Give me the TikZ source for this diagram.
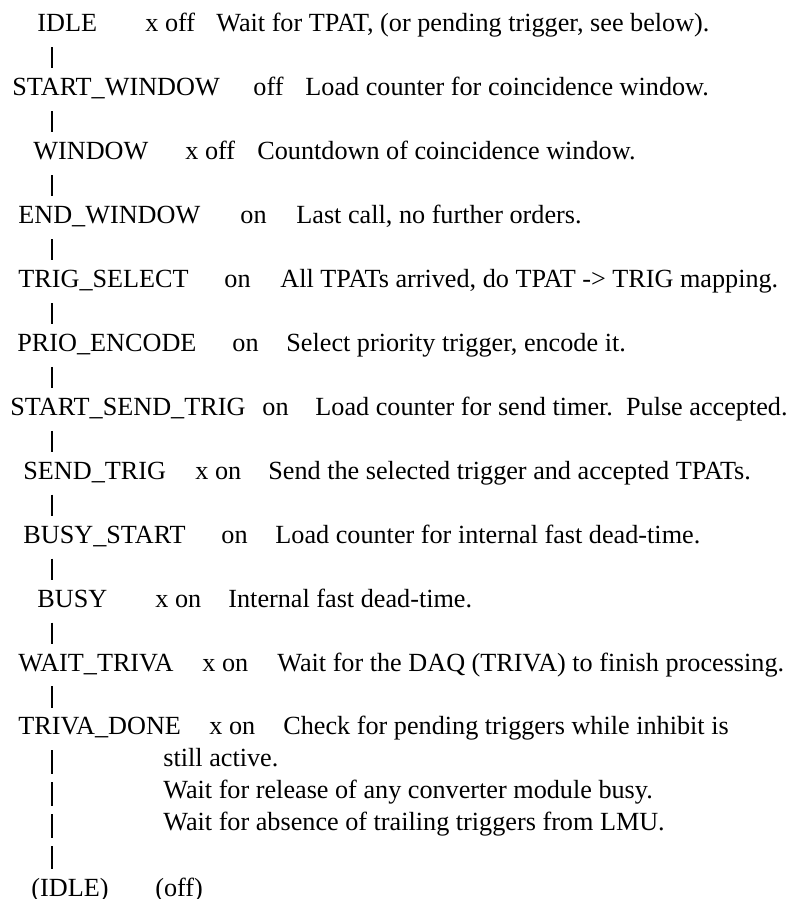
\documentclass[tikz,border=0pt]{standalone}
\usepackage{fontspec}
\setmainfont{Liberation Serif}
\usepackage{tikz}
\usetikzlibrary{positioning,calc}

\tikzset{
    txt/.style={anchor=base west, inner sep=0pt, font=\fontsize{13.1pt}{15pt}\selectfont},
    state/.style={txt, text height=13.5pt, text depth=7.5pt},
    bar/.style={line width=0.9pt}
}

\begin{document}
\begin{tikzpicture}[x=0.5pt, y=-0.5pt]
    \useasboundingbox (0,0) rectangle (798,899);

    % States
    \node[state] (idle)      at (37,32)    {IDLE};
    \node[state] (startwin)  at (12,95.9)  {START\_WINDOW};
    \node[state] (win)       at (33,159.8) {WINDOW};
    \node[state] (endwin)    at (18,223.7) {END\_WINDOW};
    \node[state] (trigsel)   at (18,287.6) {TRIG\_SELECT};
    \node[state] (prioenc)   at (17,351.5) {PRIO\_ENCODE};
    \node[state] (startsend) at (10,415.4) {START\_SEND\_TRIG};
    \node[state] (sendtrig)  at (23,479.3) {SEND\_TRIG};
    \node[state] (busystart) at (23,543.2) {BUSY\_START};
    \node[state] (busy)      at (37,607.1) {BUSY};
    \node[state] (waittriva) at (18,671)   {WAIT\_TRIVA};
    \node[state] (trivadone) at (18,734.9) {TRIVA\_DONE};
    \node[state] (idleret)   at (31,896)   {(IDLE)};

    % Inhibit flags
    \node[txt] (idleflag)      at (145,32)    {x off};
    \node[txt] (startwinflag)  at (253,95.9)  {off};
    \node[txt] (winflag)       at (185,159.8) {x off};
    \node[txt] (endwinflag)    at (240,223.7) {on};
    \node[txt] (trigselflag)   at (224,287.6) {on};
    \node[txt] (prioencflag)   at (232,351.5) {on};
    \node[txt] (startsendflag) at (262,415.4) {on};
    \node[txt] (sendtrigflag)  at (195,479.3) {x on};
    \node[txt] (busystartflag) at (221,543.2) {on};
    \node[txt] (busyflag)      at (155,607.1) {x on};
    \node[txt] (waittrivaflag) at (202,671)   {x on};
    \node[txt] (trivadoneflag) at (209,734.9) {x on};
    \node[txt] (idleretflag)   at (155,896)   {(off)};

    % Descriptions
    \node[txt] (idledesc)      at (216,32)    {Wait for TPAT, (or pending trigger, see below).};
    \node[txt] (startwindesc)  at (305,95.9)  {Load counter for coincidence window.};
    \node[txt] (windesc)       at (257,159.8) {Countdown of coincidence window.};
    \node[txt] (endwindesc)    at (296,223.7) {Last call, no further orders.};
    \node[txt] (trigseldesc)   at (280,287.6) {All TPATs arrived, do TPAT -> TRIG mapping.};
    \node[txt] (prioencdesc)   at (286,351.5) {Select priority trigger, encode it.};
    \node[txt] (startsenddesc) at (315,415.4) {Load counter for send timer.\ \ Pulse accepted.};
    \node[txt] (sendtrigdesc)  at (268,479.3) {Send the selected trigger and accepted TPATs.};
    \node[txt] (busystartdesc) at (275,543.2) {Load counter for internal fast dead-time.};
    \node[txt] (busydesc)      at (228,607.1) {Internal fast dead-time.};
    \node[txt] (waittrivadesc) at (277,671)   {Wait for the DAQ (TRIVA) to finish processing.};
    \node[txt] (trivadonedesc) at (283,734.9) {Check for pending triggers while inhibit is};
    \node[txt] (trivadonedescb) at (163,766.9) {still active.};
    \node[txt] (trivadonedescc) at (163,798.8) {Wait for release of any converter module busy.};
    \node[txt] (trivadonedescd) at (163,830.7) {Wait for absence of trailing triggers from LMU.};

    % Transitions
    \coordinate (spine) at (52,0);
    \foreach \a/\b in {idle/startwin, startwin/win, win/endwin, endwin/trigsel,
                       trigsel/prioenc, prioenc/startsend, startsend/sendtrig,
                       sendtrig/busystart, busystart/busy, busy/waittriva,
                       waittriva/trivadone} {
        \draw[bar] (spine |- \a.south) -- (spine |- \b.north);
    }
    \draw[bar, dash pattern=on 12pt off 4pt] (spine |- trivadone.south) -- (spine |- idleret.north);
\end{tikzpicture}
\end{document}
